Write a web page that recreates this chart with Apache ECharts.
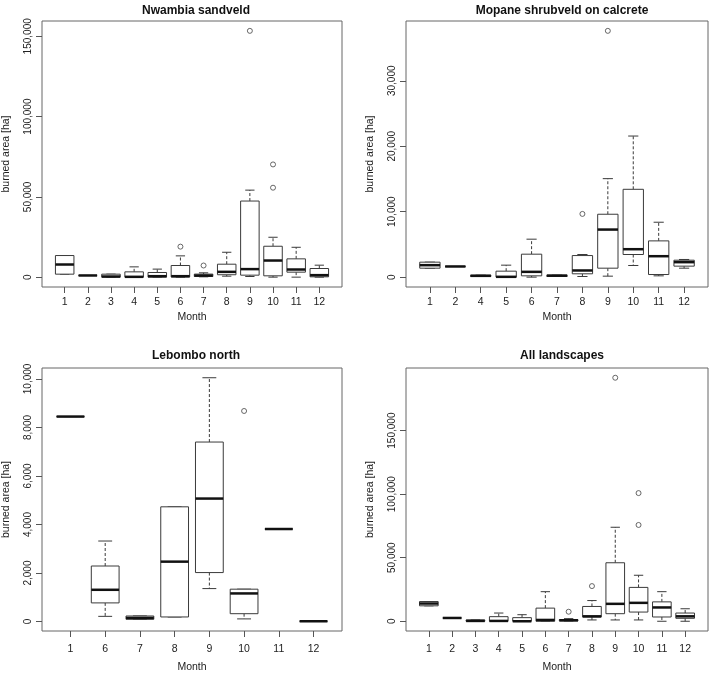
<!DOCTYPE html>
<html><head><meta charset="utf-8">
<script src="https://cdn.jsdelivr.net/npm/echarts@6/dist/echarts.min.js"></script>
<style>html,body{margin:0;padding:0;background:#fff}#c{width:709px;height:674px}</style>
</head><body><div id="c"></div>
<script>
// ---------- DATA ----------
const panelTitles = ['Nwambia sandveld', 'Mopane shrubveld on calcrete', 'Lebombo north', 'All landscapes'];

// [min, Q1, median, Q3, max]
const nwMonths = ['1','2','3','4','5','6','7','8','9','10','11','12'];
const nwStats = [
  [1860,1860,7870,13460,13460],
  [1040,1040,1040,1040,1040],
  [0,0,400,1860,1860],
  [0,0,200,3300,6400],
  [0,0,600,2900,5000],
  [0,100,600,7250,13250],
  [200,400,1000,1900,2700],
  [600,1500,3300,8070,15500],
  [400,1240,5000,47400,54200],
  [0,830,10350,19250,24840],
  [0,3100,4760,11400,18600],
  [0,200,1240,5380,7450]
];
const nwOutliers = [['6',19000],['7',7250],['9',153400],['10',55700],['10',70200]];

const moMonths = ['1','2','4','5','6','7','8','9','10','11','12'];
const moStats = [
  [1370,1370,1830,2290,2290],
  [1630,1630,1630,1630,1630],
  [100,100,200,300,300],
  [0,0,50,915,1830],
  [0,200,810,3510,5800],
  [100,100,230,300,300],
  [100,510,1020,3300,3460],
  [150,1370,7270,9610,15050],
  [1780,3460,4270,13420,21560],
  [200,400,3200,5540,8390],
  [1370,1680,2290,2590,2700]
];
const moOutliers = [['8',9660],['9',37630]];

const leMonths = ['1','6','7','8','9','10','11','12'];
const leStats = [
  [8450,8450,8450,8450,8450],
  [215,770,1310,2290,3320],
  [95,95,150,230,230],
  [190,190,2470,4730,4730],
  [1360,2020,5070,7400,10050],
  [110,325,1160,1335,1335],
  [3815,3815,3815,3815,3815],
  [13,13,13,13,13]
];
const leOutliers = [['10',8680]];

const alMonths = ['1','2','3','4','5','6','7','8','9','10','11','12'];
const alStats = [
  [12150,12150,13960,15520,15520],
  [2590,2590,2590,2590,2590],
  [0,0,260,1030,1030],
  [0,0,260,3620,6470],
  [0,0,0,2840,5170],
  [0,0,1030,10340,23270],
  [260,260,780,1290,2070],
  [1030,3360,3880,11640,16290],
  [1030,5950,13700,46030,73960],
  [1030,7240,14480,26640,36200],
  [0,3360,10860,15260,23270],
  [0,2330,3880,6470,9830]
];
const alOutliers = [['7',7500],['8',27670],['9',191600],['10',75770],['10',100850]];

const nwTicks = [0,50000,100000,150000];
const moTicks = [0,10000,20000,30000];
const leTicks = [0,2000,4000,6000,8000,10000];
const alTicks = [0,50000,100000,150000];

// ---------- LAYOUT ----------
const FONT = '"Liberation Sans", Arial, Helvetica, sans-serif';
const grids = [
  {left:40, top:21, width:302, height:266},
  {left:406, top:21, width:302, height:266},
  {left:40, top:368, width:302, height:266},
  {left:406, top:368, width:302, height:266}
];
const titlePos = [[191,0],[557,0],[191,345],[557,345]];
const xLabelMargin = [10,10,13,13];
const xNameGap = [25,25,31,31];

const panels = [
  {months:nwMonths, stats:nwStats, out:nwOutliers, ticks:nwTicks},
  {months:moMonths, stats:moStats, out:moOutliers, ticks:moTicks},
  {months:leMonths, stats:leStats, out:leOutliers, ticks:leTicks},
  {months:alMonths, stats:alStats, out:alOutliers, ticks:alTicks}
];

const LINE = '#3a3a3a';
const TEXT = '#222';

function renderBox(params, api){
  const x = api.value(0);
  const v = [1,2,3,4,5].map(i => api.value(i));
  const c = val => api.coord([x, val]);
  const cx = c(0)[0];
  const pL = api.coord([x-0.4,0])[0], pR = api.coord([x+0.4,0])[0];
  const sL = api.coord([x-0.2,0])[0], sR = api.coord([x+0.2,0])[0];
  const [ymin,yq1,ymed,yq3,ymax] = v.map(val => c(val)[1]);
  const dash = {stroke:LINE, lineWidth:1, lineDash:[3,2]};
  const solid = {stroke:LINE, lineWidth:1};
  return {type:'group', children:[
    {type:'line', shape:{x1:cx,y1:yq3,x2:cx,y2:ymax}, style:dash},
    {type:'line', shape:{x1:cx,y1:yq1,x2:cx,y2:ymin}, style:dash},
    {type:'line', shape:{x1:sL,y1:ymax,x2:sR,y2:ymax}, style:solid},
    {type:'line', shape:{x1:sL,y1:ymin,x2:sR,y2:ymin}, style:solid},
    {type:'rect', shape:{x:pL,y:yq3,width:pR-pL,height:Math.max(yq1-yq3,0)}, style:{fill:'#fff',stroke:LINE,lineWidth:1}},
    {type:'line', shape:{x1:pL,y1:ymed,x2:pR,y2:ymed}, style:{stroke:'#111',lineWidth:2.5}}
  ]};
}

const option = {
  animation:false,
  backgroundColor:'#fff',
  title: panelTitles.map((t,i)=>({
    text:t, left:titlePos[i][0], top:titlePos[i][1], textAlign:'center',
    textStyle:{fontFamily:FONT, fontSize:12, fontWeight:'bold', color:'#111'}
  })),
  grid: grids.map(g => Object.assign({show:true, borderColor:'#666', borderWidth:1, backgroundColor:'transparent'}, g)),
  xAxis: [], yAxis: [], series: []
};

panels.forEach((p,i) => {
  const n = p.months.length;
  const pos = p.months.map((m,k)=>k+1);
  const allVals = p.stats.flat().concat(p.out.map(o=>o[1]));
  const dmin = Math.min(...allVals), dmax = Math.max(...allVals);
  const ext = 0.04*(dmax-dmin);
  option.xAxis.push({
    gridIndex:i, type:'value', min:0.5-0.04*n, max:n+0.5+0.04*n,
    axisLine:{show:false, onZero:false},
    axisTick:{show:true, inside:false, length:6, customValues:pos, lineStyle:{color:'#555'}},
    axisLabel:{customValues:pos, formatter:v=>p.months[Math.round(v)-1], margin:xLabelMargin[i],
      fontFamily:FONT, fontSize:10.5, color:TEXT},
    splitLine:{show:false},
    name:'Month', nameLocation:'middle', nameGap:xNameGap[i],
    nameTextStyle:{fontFamily:FONT, fontSize:10.5, color:TEXT}
  });
  option.yAxis.push({
    gridIndex:i, type:'value', min:dmin-ext, max:dmax+ext,
    axisLine:{show:false, onZero:false},
    axisTick:{show:true, inside:false, length:6, customValues:p.ticks, lineStyle:{color:'#555'}},
    axisLabel:{customValues:p.ticks, rotate:90, margin:9, formatter:v=>Number(v).toLocaleString('en-US'),
      fontFamily:FONT, fontSize:10, color:TEXT},
    splitLine:{show:false},
    name:'burned area [ha]', nameLocation:'middle', nameGap:30, nameRotate:90,
    nameTextStyle:{fontFamily:FONT, fontSize:10.5, color:TEXT}
  });
  option.series.push({
    type:'custom', xAxisIndex:i, yAxisIndex:i,
    renderItem:renderBox,
    encode:{x:0, y:[1,2,3,4,5]},
    data:p.stats.map((s,k)=>[k+1].concat(s)),
    clip:false
  });
  option.series.push({
    type:'scatter', xAxisIndex:i, yAxisIndex:i,
    symbol:'circle', symbolSize:5,
    itemStyle:{color:'rgba(0,0,0,0)', borderColor:'#444', borderWidth:1},
    data:p.out.map(o=>[p.months.indexOf(o[0])+1, o[1]])
  });
});

const chart = echarts.init(document.getElementById('c'), null, {renderer:'canvas'});
chart.setOption(option);
</script>
</body></html>
